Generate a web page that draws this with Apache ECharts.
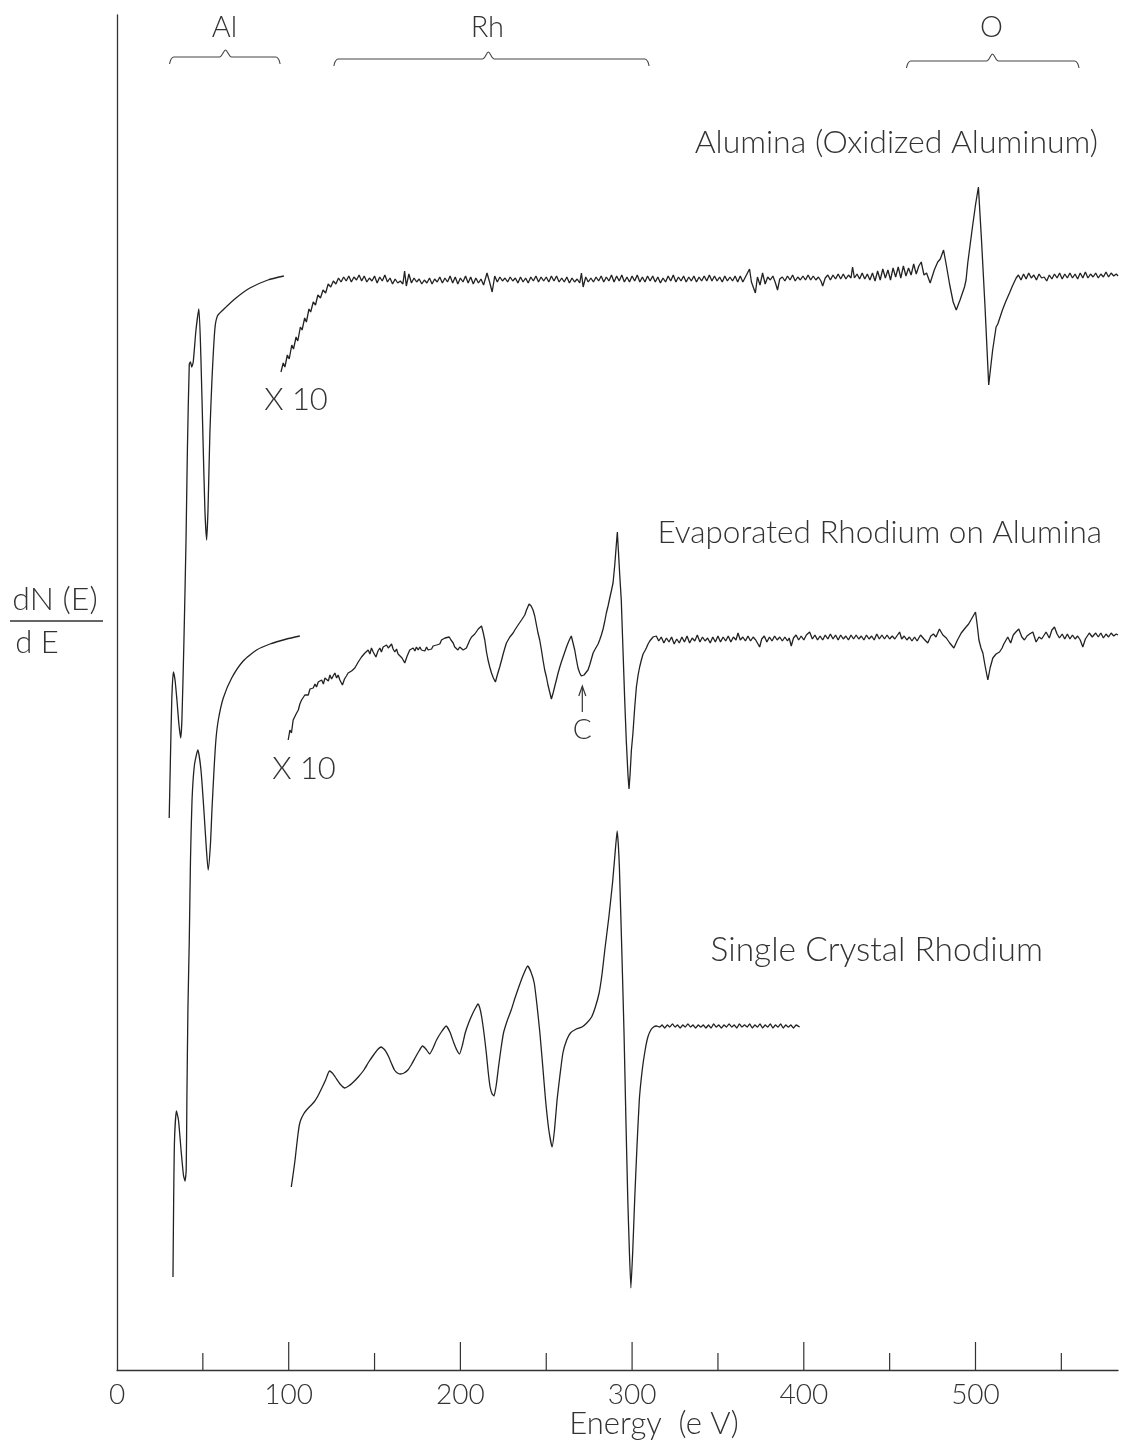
<!DOCTYPE html>
<html><head><meta charset="utf-8">
<script src="https://cdn.jsdelivr.net/npm/echarts@6/dist/echarts.min.js"></script>
<style>html,body{margin:0;padding:0;background:#fff}#c{width:1121px;height:1443px}</style>
</head><body><div id="c"></div>
<script>
// Energy (eV) vs dN(E)/dE (arbitrary units, curves offset vertically)
const xTickLabels = ['0','100','200','300','400','500'];
const xMajorTicks = [100,200,300,400,500];
const xMinorTicks = [50,150,250,350,450,550];

// Alumina (Oxidized Aluminum), x1 low-energy part
const aluminaLow = [[30.4,552],[31.1,610],[31.9,670],[32.8,698],[33.8,690],[34.9,670],[36.1,645],[37.1,632],[37.8,650],[39.0,730],[40.2,830],[41.0,920],[42.1,1006],[42.8,1008],[43.5,1003],[44.4,1008],[46.0,1040],[47.7,1061],[48.9,1010],[50.1,930],[51.2,860],[52.2,830],[53.0,860],[54.1,937],[55.3,990],[57.0,1041],[58.5,1054],[61.7,1060],[69.3,1072],[77.4,1082],[87.9,1090],[97.2,1094]];

// Alumina, x10 part
const aluminaX10 = [[95.5,998],[96.8,1007],[97.8,1003],[99.2,1015],[100.3,1011],[101.8,1025],[102.8,1021],[104.3,1033],[105.3,1029],[106.8,1043],[107.8,1040],[109.3,1052],[110.3,1048],[111.8,1061],[112.8,1058],[114.3,1068],[115.6,1065],[117,1075],[118.5,1072],[120,1080],[121.5,1077],[123,1086],[124.5,1083],[126,1089],[127.5,1086],[129,1092],
[130.5,1088],[132,1093],[133.5,1089],[135,1094],[136.5,1088],[138,1093],[139.5,1090],[141,1095],[142.5,1089],[144,1094],[145.5,1088],[147,1092],[148.5,1089],[150,1094],[151.5,1087],[153,1093],[154.5,1089],[156,1095],[157.5,1088],[159,1092],[160.5,1086],[162,1091],[163.5,1087],[165,1089],[166.5,1086],[167.5,1099],[168.5,1084],[170,1096],[171.5,1087],[173,1092],[174.5,1088],[176,1091],[177.5,1086],[179,1090],[180.5,1087],[182,1092],[183.5,1086],[185,1091],[186.5,1088],[188,1093],[189.5,1087],[191,1092],[192.5,1088],[194,1094],[195.5,1087],[197,1093],[198.5,1086],[200,1092],[201.5,1088],[203,1094],[204.5,1087],[206,1093],[207.5,1086],[209,1092],[210.5,1087],[212,1091],[213.5,1085],[215.5,1097],[217,1088],[218.5,1078],[220,1094],[221.5,1088],[223,1093],[224.5,1089],[226,1092],[227.5,1088],[229,1093],[230.5,1089],[232,1092],[233.5,1087],[235,1093],[236.5,1088],[238,1092],[239.5,1087],[241,1093],[242.5,1089],[244,1094],[245.5,1088],[247,1093],[248.5,1089],[250,1093],[251.5,1088],[253,1094],[254.5,1089],[256,1094],[257.5,1088],[259,1092],[260.5,1088],[262,1093],[263.5,1087],[265,1092],[266.5,1088],[268,1091],[269.5,1087],[270.5,1097],[271.5,1083],[273,1093],[274.5,1088],[276,1092],[277.5,1088],[279,1093],[280.5,1089],[282,1094],[283.5,1088],[285,1093],[286.5,1089],[288,1095],[289.5,1088],[291,1094],[292.5,1089],[294,1095],[295.5,1088],[297,1093],[298.5,1088],[300,1094],[301.5,1089],[303,1095],[304.5,1088],[306,1093],[307.5,1088],[309,1094],[310.5,1089],[312,1094],[313.5,1088],[315,1093],[316.5,1087],[318,1092],[319.5,1088],[321,1094],[322.5,1089],[324,1095],[325.5,1088],[327,1093],[328.5,1089],[330,1094],[331.5,1088],[333,1093],[334.5,1089],[336,1094],[337.5,1088],[339,1093],[340.5,1089],[342,1094],[343.5,1089],[345,1095],[346.5,1089],[348,1094],[349.5,1089],[351,1093],[352.5,1088],[354,1094],[355.5,1089],[357,1093],[358.5,1089],[360,1094],[361.5,1088],[363,1094],[364.5,1088],[366,1093],[368.4,1101],[369.5,1088],[371.8,1077],[373,1093],[374.5,1085],[376,1097],[377.5,1086],[379,1093],[380.5,1090],[382,1094],[383.5,1087],[384.7,1080],[386,1091],[387.5,1093],[389,1089],[390.5,1094],[392,1090],[393.5,1095],[395,1089],[396.5,1093],[398,1090],[399.5,1094],[401,1090],[402.5,1095],[404,1090],[405.5,1094],[407,1090],[408.5,1093],[410,1089],[411,1084],[412.5,1092],[414,1095],[415.5,1090],[417,1095],[418.5,1091],[420,1096],[421.5,1091],[423,1096],[424.5,1091],[426,1095],[427.5,1092],[428.4,1103],[429.5,1092],[431,1096],[432.5,1091],[434,1097],[435.5,1091],[437,1096],[438.5,1090],[440,1097],[441.5,1089],[443,1099],[444.5,1090],[446,1101],[447.5,1092],[449,1100],[450.5,1090],[452,1102],[453.5,1093],[455,1103],[456.5,1092],[458,1104],[459.5,1094],[461,1102],[462.5,1095],[464,1106],[465.5,1096],[467,1104],[468.4,1108],[470,1095],[471.5,1097],[473.6,1087],[476,1100],[478,1108],[479.5,1111],[481.4,1120],[483,1105],[485,1085],[487,1068],[488.8,1060],[491,1070],[493.6,1083],[494.5,1090],[495.5,1107],[498,1140],[500,1165],[501.7,1183],[503.5,1130],[505.5,1065],[507.7,985],[509,1005],[510,1020],[512,1043],[513,1046],[515.7,1060],[517.5,1068],[519.8,1077],[521.5,1084],[523.7,1092],
[525,1095],[526.5,1090],[528,1096],[529.5,1091],[531,1097],[532.5,1092],[534,1095],[535.5,1090],[537,1096],[538.5,1092],[540,1093],[541.5,1089],[543,1095],[544.5,1091],[546,1096],[547.5,1092],[549,1097],[550.5,1091],[552,1096],[553.5,1092],[555,1097],[556.5,1092],[558,1096],[559.5,1091],[561,1097],[562.5,1092],[564,1098],[565.5,1092],[567,1096],[568.5,1093],[570,1097],[571.5,1092],[573,1096],[574.5,1093],[576,1098],[577.5,1093],[579,1097],[580.5,1094],[582,1096],[583,1094]];

// Evaporated Rhodium on Alumina, x1 low-energy part
const rhAluminaLow = [[32.6,93],[33.0,170],[33.5,230],[34.6,259],[35.8,250],[37.3,220],[38.7,195],[39.6,189],[40.3,200],[40.7,270],[41.3,360],[42.1,430],[42.8,510],[43.7,570],[45.1,605],[47.1,620],[48.9,600],[50.6,560],[52.1,520],[53.1,500],[54.4,525],[55.3,560],[56.5,600],[57.6,630],[59.0,650],[61.9,672],[66.8,692],[73.5,709],[81.3,720],[89.1,726],[98.8,731],[106.5,734]];

// Evaporated Rhodium on Alumina, x10 part
const rhAluminaX10 = [[99.7,630],[100.7,640],[101.6,637],[102.6,650],[103.6,648],[104.6,657],[105.6,660],[106.5,666],[107.5,670],[108.5,668],[109.4,675],[110.4,677],[111.4,675],[112.4,681],[113.3,679],[114.3,682],[115.3,686],[116.2,683],[117.2,688],[118.2,687],[119.2,690],[120.2,686],[121.1,692],[122.1,692],[123.1,689],[124,695],[125,691],[125.9,694],[126.9,697],[127.9,692],[128.8,695],[129.8,690],[131.3,685],[132.5,691],[133.6,694],[134.6,697],[135.6,695],[136.6,699],[137.6,697],[138.5,702],[139.5,702],[140.5,708],[141.5,706],[142.4,713],[143.4,711],[144.4,717],[145.3,716],[146.3,720],[147.3,716],[148.2,722],[149.2,718],[150.8,713],[152,719],[153.1,722],[154,718],[155,723],[156,721],[157,725],[158,722],[159.9,726],[160.8,721],[161.8,718],[162.8,721],[163.7,716],[164.7,717],[166,712],[167.6,707],[169,714],[170.5,720],[171.5,718],[172.5,722],[173.5,719],[174.4,723],[175.4,720],[176.4,723],[177.3,720],[178.3,722],[179.3,719],[180.3,723],[181.2,720],[182.2,722],[183.2,721],[184.1,724],[185.1,722],[186.1,725],[187.1,727],[188,726],[189,730],[190,730],[191,732],[192,731],[193.5,733],[194.5,730],[195.8,727],[196.7,723],[197.7,722],[198.6,720],[199.6,723],[200.6,722],[201.6,720],[202.6,718],[203.5,722],[204.5,726],[205.5,730],[206.5,733],[207.4,732],[208.4,736],[209.4,738],[210.4,741],[211.3,740],[212.3,744],[213.2,738],[214.2,730],[215.2,718],[216.1,710],[217.1,703],[218.1,697],[219.2,692],[220.4,688],[221.5,695],[222.9,703],[224,710],[224.9,716],[225.9,722],[226.8,727],[227.8,730],[228.8,733],[229.7,732],[230.7,737],[231.7,740],[232.6,742],[233.6,745],[234.6,747],[235.6,750],[236.5,752],[237.5,755],[238.5,760],[240,766],[241.2,764],[242.3,760],[243.3,754],[244.3,745],[245.2,737],[246.2,730],[247.2,720],[248.1,710],[249.1,700],[250.1,693],[251,685],[252,678],[253,671],[254,677],[255,684],[255.9,690],[256.9,697],[257.9,703],[258.8,708],[259.8,713],[260.8,718],[261.8,723],[262.7,727],[263.7,731],[264.6,734],[265.6,727],[266.6,720],[267.5,711],[268.5,702],[269.5,697],[270.4,694],[271,693],[272,695],[273,694],[274.3,700],[275.3,705],[276.3,711],[277.3,717],[278.2,720],[279.2,723],[280.2,726],[281.1,730],[282.1,735],[283.1,741],[284,748],[285,757],[286,764],[287,772],[287.9,779],[288.9,787],[289.9,805],[290.8,825],[291.4,838],[292,820],[292.8,795],[293.7,770],[294.7,720],[295.7,670],[296.6,630],[297.6,595],[298.2,581],[298.8,595],[299.6,620],[300.5,637],[301.5,662],[302.5,683],[303.5,695],[304.4,703],[305.4,710],[306.4,716],[307.4,719],[308.3,722],[309.3,726],[310.3,729],[311.2,731],[312.2,733],[313.2,731],[314.1,734],
[315.5,729],[317,733],[318.5,727],[320,732],[321.5,728],[323,733],[324.5,726],[326,731],[327.5,727],[329,733],[330.5,728],[332,734],[333.5,727],[335,732],[336.5,729],[338,735],[339.5,728],[341,733],[342.5,729],[344,732],[345.5,727],[347,733],[348.5,728],[350,734],[351.5,728],[353,733],[354.5,729],[356,734],[357.5,728],[359,733],[360.5,730],[361.7,737],[363,730],[364.5,733],[366,729],[367.5,734],[369,729],[370.5,733],[372,730],[373,727],[374.3,723],[375.5,731],[377,734],[378.5,728],[380,733],[381.5,729],[383,734],[384.5,730],[386,733],[387.5,729],[389,733],[390.5,729],[391.5,732],[392.7,724],[394,732],[395.5,735],[397,730],[398.5,734],[400,730],[401.5,735],[403.4,738],[405,731],[406.5,735],[408,730],[409.5,734],[411,730],[412.5,735],[414,731],[415.5,736],[417,731],[418.5,735],[420,730],[421.5,735],[423,731],[424.5,734],[426,730],[427.5,735],[429,731],[430.5,735],[432,731],[433.5,734],[435,730],[436.5,735],[438,731],[439.5,734],[441,730],[442.5,736],[444,731],[445.5,735],[447,731],[448.5,735],[450,731],[451.5,734],[453,731],[455.8,738],[457,731],[458.5,734],[460,730],[461.5,733],[463,729],[464.5,733],[466,729],[468,735],[470,731],[472.2,727],[474,734],[475.5,736],[477,733],[479,741],[481,735],[483,732],[485,727],[487.4,722],[489.5,730],[491.7,737],[494,742],[496,746],[498,752],[500,758],[501,745],[502,730],[503.2,722],[504.3,717],[505.5,705],[507.2,690],[508.5,702],[510.1,712],[512,716],[514,718],[515.5,722],[516.5,726],[518.8,733],[520.5,727],[522,735],[523.5,738],[525.2,741],[527,733],[528.5,730],[530,734],[531.5,736],[533.4,738],[535.3,728],[537,733],[538.5,731],[540,735],[541.1,738],[543,732],[544.5,740],[546,743],[547.5,736],[548.9,732],[550.5,736],[552,731],[553.5,736],[555,731],[556.5,735],[558,731],[559.5,734],[561,730],[562.5,723],[564,731],[566.3,737],[568,733],[570,737],[571.5,733],[573,737],[574.5,732],[576,736],[577.5,733],[579,737],[580.5,734],[582,736],[583,735]];

// Single Crystal Rhodium
const singleRh = [[101.5,183],[102.6,196],[103.7,210],[104.6,224],[105.5,237],[106.2,245],[107,250],[108.7,256],[110.4,260],[112.6,264],[114.8,268],[117,274],[119.3,282],[121.5,290],[123.7,299],[125.4,297],[127.1,293],[129.9,286],[132.7,282],[134.9,284],[137.1,287],[140.5,293],[143.8,300],[146.6,308],[149.4,315],[151.6,320],[153.8,323],[156,320],[158.3,313],[160,306],[161.6,300],[163.3,297],[165,296],[167.2,297],[169.4,300],[171.7,306],[173.9,313],[175.9,319],[177.9,324],[179.9,321],[182.1,316],[184.1,322],[186.1,330],[188.9,338],[191.7,344],[193.9,338],[196.2,327],[197.9,320],[199.5,316],[201.2,325],[202.8,337],[205,348],[207.3,357],[208.8,362],[210.2,366],[211.3,362],[212.4,353],[213.8,336],[215.1,317],[216.2,298],[217.3,283],[218.5,276],[219.6,274],[220.9,285],[222.2,303],[223.7,322],[225.1,337],[227.4,350],[229.6,360],[231.8,372],[234,383],[236.6,395],[239.2,404],[241.1,398],[243,387],[244.6,365],[246.3,337],[248,303],[249.6,270],[251.5,240],[253.4,223],[254.8,240],[256.3,270],[258,295],[259.7,317],[261.9,330],[264.1,337],[267.5,341],[270.8,343],[273.6,347],[276.4,353],[278.6,363],[280.8,377],[282.5,396],[284.1,420],[286.4,452],[288.6,487],[290,515],[291.3,539],[292,525],[292.6,503],[294,420],[295.3,337],[296.4,250],[297.5,170],[298.4,120],[299.3,82],[300.4,120],[301.5,170],[302.8,222],[304.2,270],[305.9,300],[307.6,320],[309.2,333],[310.9,340],[312.5,343],[314.2,344],
[316,343],[317.5,345],[319,342],[320.5,345],[322,343],[323.5,346],[325,343],[326.5,345],[328,342],[329.5,345],[331,343],[332.5,346],[334,343],[335.5,345],[337,342],[338.5,345],[340,343],[341.5,345],[343,342],[344.5,345],[346,342],[347.5,346],[349,343],[350.5,345],[352,342],[353.5,345],[355,343],[356.5,346],[358,343],[359.5,345],[361,342],[362.5,346],[364,343],[365.5,345],[367,343],[368.5,346],[370,342],[371.5,345],[373,343],[374.5,346],[376,342],[377.5,345],[379,343],[380.5,346],[382,342],[383.5,345],[385,343],[386.5,346],[388,342],[389.5,345],[391,343],[392.5,345],[394,342],[395.5,345],[397.6,343]];

// Element brackets
const bracketLabels = ['Al','Rh','O'];
const bracketFrom = [30.6, 126.3, 459.8];
const bracketMid = [63.2, 216.3, 509.9];
const bracketTo = [95.0, 309.9, 560.3];
const bracketLevel = [1313, 1311, 1309];

const carbonEnergy = 271;   // "C" marker on the Rh-on-alumina curve

const FONT = 'Lato, "DejaVu Sans", sans-serif';
const INK = '#222';

function bracketPath(i){
  const a = bracketFrom[i], m = bracketMid[i], b = bracketTo[i], v = bracketLevel[i];
  return [[a, v-7],[a+0.8, v-2.5],[a+2.4, v],[m-3.5, v],[m, v+7],[m+3.5, v],[b-2.4, v],[b-0.8, v-2.5],[b, v-7]];
}

const chart = echarts.init(document.getElementById('c'), null, {renderer:'canvas'});
const lineSeries = (name, data, smooth) => ({
  name, type:'line', data, showSymbol:false, symbol:'none', smooth: smooth || false,
  lineStyle:{color:INK, width:1.3}, silent:true, z:3
});

const series = [
  lineSeries('Alumina low', aluminaLow, 0.2),
  lineSeries('Alumina x10', aluminaX10),
  lineSeries('Rh on alumina low', rhAluminaLow, 0.2),
  lineSeries('Rh on alumina x10', rhAluminaX10),
  lineSeries('Single crystal Rh', singleRh, 0.15)
];
bracketLabels.forEach((l,i) => series.push({
  name:'bracket '+l, type:'line', data:bracketPath(i), showSymbol:false, symbol:'none',
  smooth:0.3, lineStyle:{color:'#444', width:1.1}, silent:true
}));
// axis ticks (inside, pointing up): long at 100s, short at 50s
const tickData = xMajorTicks.map(v => [v, 0, 28]).concat(xMinorTicks.map(v => [v, 0, 17]));
series.push({
  name:'ticks', type:'custom', data:tickData, silent:true, z:4,
  renderItem:(params, api) => {
    const p = api.coord([api.value(0), api.value(1)]);
    return {type:'line', shape:{x1:p[0], y1:p[1], x2:p[0], y2:p[1]-api.value(2)}, style:{stroke:'#333', lineWidth:1.2}};
  }
});

chart.setOption({
  animation:false,
  backgroundColor:'#fff',
  grid:{left:117, top:15, right:2, bottom:73},
  xAxis:{
    type:'value', min:0, max:583, interval:100,
    axisLine:{show:true, lineStyle:{color:'#333', width:1.3}},
    axisTick:{show:false},
    splitLine:{show:false},
    axisLabel:{show:true, margin:11, fontFamily:FONT, fontWeight:300, fontSize:28, color:'#333',
      formatter:(v)=> { const i = xTickLabels.indexOf(String(v)); return i>=0 ? xTickLabels[i] : ''; }}
  },
  yAxis:{
    type:'value', min:0, max:1355,
    axisLine:{show:true, lineStyle:{color:'#333', width:1.3}},
    axisTick:{show:false}, axisLabel:{show:false}, splitLine:{show:false}
  },
  series
});

// annotations
const txt = (text, x, y, size, align) => ({
  type:'text', x, y, style:{text, fill:'#333', font:`300 ${size||28}px ${FONT}`, textAlign:align||'center', textVerticalAlign:'middle'}
});
const g = [];
bracketLabels.forEach((l,i) => {
  const p = chart.convertToPixel({gridIndex:0}, [bracketMid[i], 0]);
  g.push(txt(l, p[0]-1, 28, 29));
});
g.push(txt('Alumina (Oxidized Aluminum)', 1098, 143, 32, 'right'));
g.push(txt('Evaporated Rhodium on Alumina', 1102, 533, 31.5, 'right'));
g.push(txt('Single Crystal Rhodium', 1043, 950, 33.5, 'right'));
g.push(txt('X 10', 296, 400, 31));
g.push(txt('X 10', 304, 769, 31));
const cp = chart.convertToPixel({gridIndex:0}, [carbonEnergy, 693]);
g.push({type:'line', shape:{x1:cp[0], y1:cp[1]+10, x2:cp[0], y2:cp[1]+35}, style:{stroke:'#333', lineWidth:1.2}});
g.push({type:'polyline', shape:{points:[[cp[0]-3.5, cp[1]+19],[cp[0], cp[1]+9],[cp[0]+3.5, cp[1]+19]]}, style:{stroke:'#333', lineWidth:1.2, fill:null}});
g.push(txt('C', cp[0], cp[1]+53, 28));
g.push(txt('dN (E)', 55, 600, 32));
g.push({type:'line', shape:{x1:10, y1:621, x2:103, y2:621}, style:{stroke:'#333', lineWidth:1.3}});
g.push(txt('d E', 37, 643, 31));
g.push(txt('Energy  (e V)', 654, 1424, 31));
chart.setOption({graphic:g});
</script></body></html>
